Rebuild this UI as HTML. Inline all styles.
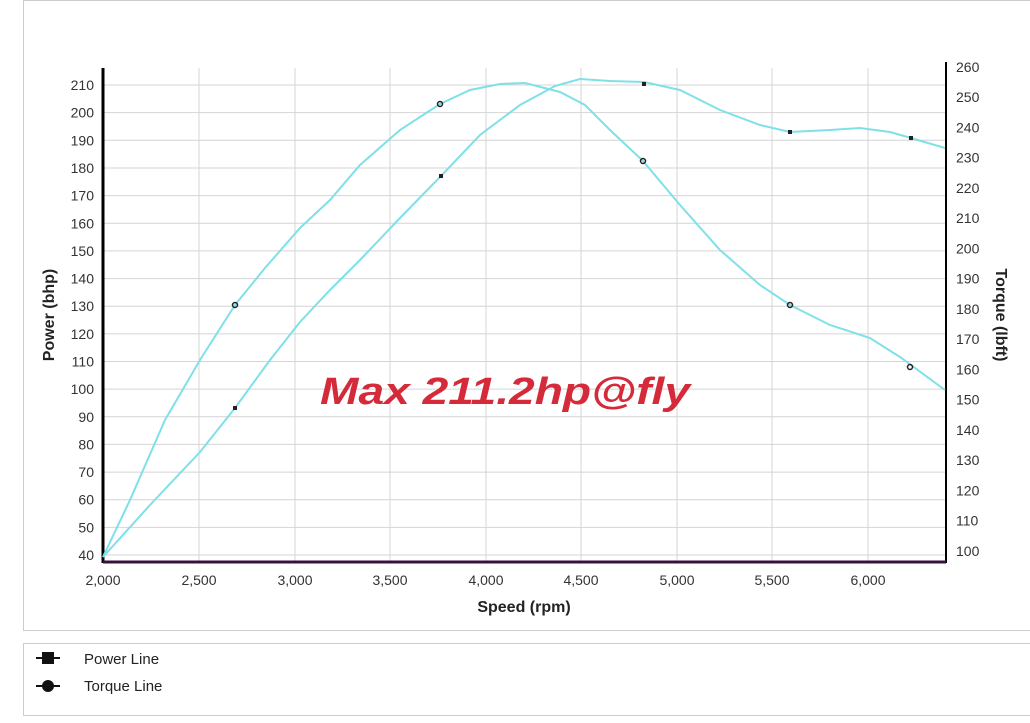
<!DOCTYPE html>
<html><head><meta charset="utf-8"><style>
body{margin:0;background:#fff;width:1030px;height:718px;overflow:hidden;font-family:"Liberation Sans",sans-serif}
</style></head><body>
<svg width="1030" height="718" xmlns="http://www.w3.org/2000/svg" font-family="Liberation Sans, sans-serif">
<rect x="23.5" y="0.5" width="1020" height="630" fill="#fff" stroke="#ccc"/>
<rect x="23.5" y="643.5" width="1020" height="72" fill="#fff" stroke="#ccc"/>
<g stroke="#d4d4d4" stroke-width="1">
<line x1="199" y1="68" x2="199" y2="562"/><line x1="295" y1="68" x2="295" y2="562"/>
<line x1="390" y1="68" x2="390" y2="562"/><line x1="486" y1="68" x2="486" y2="562"/>
<line x1="581" y1="68" x2="581" y2="562"/><line x1="677" y1="68" x2="677" y2="562"/>
<line x1="772" y1="68" x2="772" y2="562"/><line x1="868" y1="68" x2="868" y2="562"/>
<line x1="103" y1="85" x2="946" y2="85"/><line x1="103" y1="112.6" x2="946" y2="112.6"/>
<line x1="103" y1="140.3" x2="946" y2="140.3"/><line x1="103" y1="168" x2="946" y2="168"/>
<line x1="103" y1="195.6" x2="946" y2="195.6"/><line x1="103" y1="223.3" x2="946" y2="223.3"/>
<line x1="103" y1="250.9" x2="946" y2="250.9"/><line x1="103" y1="278.6" x2="946" y2="278.6"/>
<line x1="103" y1="306.2" x2="946" y2="306.2"/><line x1="103" y1="333.9" x2="946" y2="333.9"/>
<line x1="103" y1="361.5" x2="946" y2="361.5"/><line x1="103" y1="389.1" x2="946" y2="389.1"/>
<line x1="103" y1="416.8" x2="946" y2="416.8"/><line x1="103" y1="444.4" x2="946" y2="444.4"/>
<line x1="103" y1="472.1" x2="946" y2="472.1"/><line x1="103" y1="499.7" x2="946" y2="499.7"/>
<line x1="103" y1="527.4" x2="946" y2="527.4"/><line x1="103" y1="555" x2="946" y2="555"/>
</g>
<g fill="#333" font-size="14" text-anchor="end">
<text x="94" y="90">210</text><text x="94" y="117.6">200</text><text x="94" y="145.3">190</text><text x="94" y="173">180</text><text x="94" y="200.6">170</text><text x="94" y="228.3">160</text><text x="94" y="255.9">150</text><text x="94" y="283.6">140</text><text x="94" y="311.2">130</text><text x="94" y="338.9">120</text><text x="94" y="366.5">110</text><text x="94" y="394.1">100</text><text x="94" y="421.8">90</text><text x="94" y="449.4">80</text><text x="94" y="477.1">70</text><text x="94" y="504.7">60</text><text x="94" y="532.4">50</text><text x="94" y="560">40</text>
</g>
<g fill="#333" font-size="14" text-anchor="start">
<text x="956" y="72">260</text><text x="956" y="102">250</text><text x="956" y="132.5">240</text><text x="956" y="162.7">230</text><text x="956" y="193">220</text><text x="956" y="223">210</text><text x="956" y="253.5">200</text><text x="956" y="283.7">190</text><text x="956" y="314">180</text><text x="956" y="344">170</text><text x="956" y="374.5">160</text><text x="956" y="404.7">150</text><text x="956" y="435">140</text><text x="956" y="465">130</text><text x="956" y="495.5">120</text><text x="956" y="525.7">110</text><text x="956" y="556">100</text>
</g>
<g fill="#333" font-size="14" text-anchor="middle">
<text x="103" y="585">2,000</text><text x="199" y="585">2,500</text><text x="295" y="585">3,000</text><text x="390" y="585">3,500</text><text x="486" y="585">4,000</text><text x="581" y="585">4,500</text><text x="677" y="585">5,000</text><text x="772" y="585">5,500</text><text x="868" y="585">6,000</text>
</g>
<text x="524" y="612" font-size="16" font-weight="bold" fill="#222" text-anchor="middle">Speed (rpm)</text>
<text transform="translate(54,315) rotate(-90)" font-size="16" font-weight="bold" fill="#222" text-anchor="middle">Power (bhp)</text>
<text transform="translate(996,315) rotate(90)" font-size="16" font-weight="bold" fill="#222" text-anchor="middle">Torque (lbft)</text>
<line x1="103" y1="68" x2="103" y2="563" stroke="#000" stroke-width="3"/>
<line x1="946" y1="62" x2="946" y2="563" stroke="#000" stroke-width="2"/>
<line x1="103" y1="562" x2="946" y2="562" stroke="#3a1040" stroke-width="3"/>
<g fill="none" stroke="#7fe0e8" stroke-width="2">
<polyline points="103,557 130,500 165,420 200,360 235,305 265,268 300,228 330,200 360,165 400,130 440,104 470,90 500,84 525,83 560,92 585,105 610,130 643,161 680,205 720,250 760,285 790,305 830,325 870,338 900,357 945,390"/>
<polyline points="103,557 150,505 200,452 235,408 270,360 300,322 330,290 360,260 400,218 441,176 480,135 520,105 555,86 580,79 610,81 644,82 680,90 720,110 760,125 790,132 830,130 860,128 890,132 911,138 945,148"/>
</g>
<g fill="none" stroke="#222" stroke-width="1.5">
<circle cx="235" cy="305" r="2.5"/><circle cx="440" cy="104" r="2.5"/><circle cx="643" cy="161" r="2.5"/><circle cx="790" cy="305" r="2.5"/><circle cx="910" cy="367" r="2.5"/>
</g>
<g fill="#222">
<rect x="233" y="406" width="4" height="4"/><rect x="439" y="174" width="4" height="4"/><rect x="642" y="82" width="4" height="4"/><rect x="788" y="130" width="4" height="4"/><rect x="909" y="136" width="4" height="4"/>
</g>
<text x="320" y="404" font-size="38" font-weight="bold" font-style="italic" fill="#d42a3a" textLength="370" lengthAdjust="spacingAndGlyphs">Max 211.2hp@fly</text>
<rect x="42" y="652" width="12" height="12" fill="#111"/><line x1="36" y1="658" x2="60" y2="658" stroke="#111" stroke-width="2"/>
<circle cx="48" cy="686" r="6" fill="#111"/><line x1="36" y1="686" x2="60" y2="686" stroke="#111" stroke-width="2"/>
<text x="84" y="664" font-size="15" fill="#222">Power Line</text>
<text x="84" y="691" font-size="15" fill="#222">Torque Line</text>
</svg>
</body></html>
